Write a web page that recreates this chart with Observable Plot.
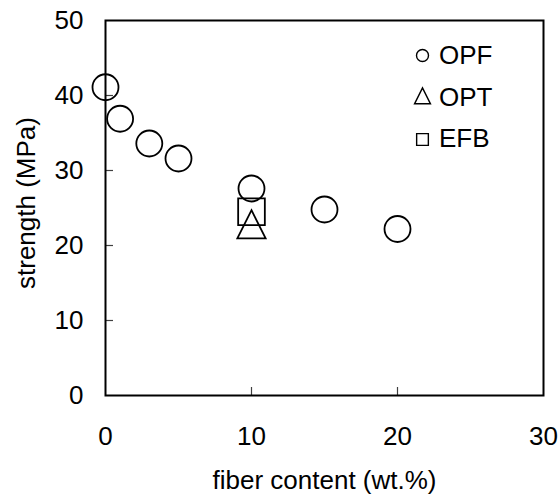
<!DOCTYPE html>
<html><head><meta charset="utf-8">
<script src="https://cdn.jsdelivr.net/npm/d3@7"></script>
<script src="https://cdn.jsdelivr.net/npm/@observablehq/plot@0.6"></script>
<style>
  html, body { margin: 0; padding: 0; background: #fff; }
</style>
</head><body><div id="chart"></div>
<script>
// ---- data ----
const opfX = [0, 1, 3, 5, 10, 15, 20];
const opfY = [41.1, 36.9, 33.6, 31.6, 27.6, 24.8, 22.2];
const optX = [10];
const optY = [22.2];
const efbX = [10];
const efbY = [24.5];
const seriesNames = ["OPF", "OPT", "EFB"];
const xTicks = [0, 10, 20, 30];
const yTicks = [0, 10, 20, 30, 40, 50];
const xLabel = "fiber content (wt.%)";
const yLabel = "strength (MPa)";

const toRows = (xs, ys) => xs.map((x, i) => ({x, y: ys[i]}));
const opf = toRows(opfX, opfY);
const opt = toRows(optX, optY);
const efb = toRows(efbX, efbY);

// open triangle with apex up, centroid at origin
const triangle = {
  draw(ctx, size) {
    const s = Math.sqrt(size);
    ctx.moveTo(0, -2 * s / 3);
    ctx.lineTo(s / 2, s / 3);
    ctx.lineTo(-s / 2, s / 3);
    ctx.closePath();
  }
};

const W = 560, H = 495, mL = 105, mR = 17, mT = 20, mB = 100;
const frameW = W - mL - mR, frameH = H - mT - mB;
const tickLen = 8;
const innerX = xTicks.slice(1, -1);
const innerY = yTicks.slice(1, -1);
const sym = {stroke: "black", fill: "none"};

const legendSymbols = ["circle", triangle, "square"];
const legendR = [6, 9, 6.6];
const legendDy = [35, 78, 119];
const legendTextDy = [35, 77, 118];

const marks = [
  Plot.tickY(innerY, {y: d => d, stroke: "#404040", strokeWidth: 1.2, insetRight: frameW - tickLen}),
  Plot.tickX(innerX, {x: d => d, stroke: "#404040", strokeWidth: 1.2, insetTop: frameH - tickLen}),
  Plot.frame({stroke: "black", strokeWidth: 2}),
  Plot.axisX(xTicks, {tickSize: 0, tickPadding: 31.5, label: null, fill: "black"}),
  Plot.axisY(yTicks, {tickSize: 0, tickPadding: 22, label: null, fill: "black"}),
  Plot.text([xLabel], {frameAnchor: "bottom", dy: 85, textAnchor: "middle", lineAnchor: "middle", fill: "black"}),
  Plot.text([yLabel], {frameAnchor: "left", rotate: -90, dx: -79, dy: -5, textAnchor: "middle", lineAnchor: "middle", fill: "black"}),
  Plot.dot(opf, {x: "x", y: "y", r: 13, symbol: "circle", strokeWidth: 1.8, ...sym}),
  Plot.dot(efb, {x: "x", y: "y", r: 15.05, symbol: "square", strokeWidth: 1.8, ...sym}),
  Plot.dot(opt, {x: "x", y: "y", r: 15.96, symbol: triangle, strokeWidth: 1.8, ...sym})
];
seriesNames.forEach((name, i) => {
  marks.push(Plot.dot([name], {frameAnchor: "top-left", dx: 317, dy: legendDy[i], r: legendR[i], symbol: legendSymbols[i], strokeWidth: 1.4, ...sym}));
  marks.push(Plot.text([name], {frameAnchor: "top-left", dx: 333.5, dy: legendTextDy[i], textAnchor: "start", lineAnchor: "middle", fill: "black"}));
});

const chart = Plot.plot({
  width: W, height: H,
  marginLeft: mL, marginRight: mR, marginTop: mT, marginBottom: mB,
  style: {fontFamily: "'Liberation Sans', Arial, Helvetica, sans-serif", fontSize: "26px", background: "#fff", color: "black"},
  x: {domain: [0, 30]},
  y: {domain: [0, 50]},
  marks
});
document.getElementById("chart").appendChild(chart);
</script>
</body></html>
